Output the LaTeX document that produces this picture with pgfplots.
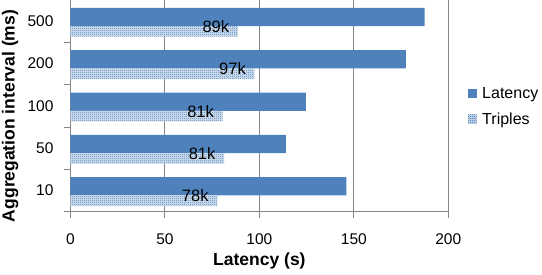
\documentclass[border=0pt]{standalone}
\usepackage{pgfplots}
\pgfplotsset{compat=1.18}
\usepackage{fontspec}
\setmainfont{Liberation Sans}
\usetikzlibrary{patterns.meta}
\definecolor{xblue}{HTML}{4F81BD}
\definecolor{xgray}{HTML}{868686}
\tikzdeclarepattern{
  name=finecheck,
  type=uncolored,
  bounding box={(0pt,0pt) and (2pt,2pt)},
  tile size={(2pt,2pt)},
  code={
    \pgfpathrectangle{\pgfpoint{0pt}{0pt}}{\pgfpoint{1pt}{1pt}}
    \pgfpathrectangle{\pgfpoint{1pt}{1pt}}{\pgfpoint{1pt}{1pt}}
    \pgfusepath{fill}
  }
}
\newcommand\tickfont{\fontsize{15.5}{18}\selectfont}
\newcommand\titlefont{\fontsize{17.5}{21}\selectfont\bfseries}
\newcommand\legfont{\fontsize{16}{19}\selectfont}
\begin{document}
\begin{tikzpicture}
\begin{axis}[
  at={(0,0)}, anchor=south west,
  scale only axis, width=377.8pt, height=211.7pt,
  xmin=0, xmax=200, ymin=-0.5, ymax=4.5,
  axis lines*=left,
  axis line style={xgray, line width=0.9pt},
  every tick/.style={xgray, line width=0.9pt},
  tick align=outside,
  major tick length=6pt,
  xtick={0,50,100,150,200},
  xmajorgrids,
  grid style={xgray, line width=0.9pt},
  ytick={-0.5,0.5,1.5,2.5,3.5},
  yticklabels={},
  extra y ticks={0,1,2,3,4},
  extra y tick labels={10,50,100,200,500},
  extra y tick style={major tick length=0pt, yticklabel style={xshift=-13.5pt}},
  /pgf/number format/assume math mode=true,
  ticklabel style={font=\tickfont, black},
  xticklabel style={yshift=-12pt},
  xlabel={Latency (s)},
  ylabel={Aggregation interval (ms)},
  every axis x label/.style={at={(axis description cs:0.5,0)}, anchor=center, yshift=-49pt, font=\titlefont},
  every axis y label/.style={at={(axis description cs:-0.160,0.452)}, anchor=center, rotate=90, font=\titlefont},
  legend style={at={(axis description cs:1.052,0.497)}, anchor=west, draw=none, fill=none, inner sep=0pt, font=\legfont, row sep=9pt, nodes={inner xsep=5.5pt, inner ysep=2pt}},
  legend cell align=left,
  clip=false,
]
\addplot[xbar, bar width=18.2pt, bar shift=4.2pt, fill=xblue, draw=none,
  legend image code/.code={\fill[xblue] (0pt,-4.3pt) rectangle (8.6pt,4.3pt);}]
  coordinates {(146,0) (114,1) (124.6,2) (177.5,3) (187.5,4)};
\addlegendentry{Latency}
\addplot[xbar, bar width=10.6pt, bar shift=-10.2pt, draw=none, fill=xblue!22,
  postaction={pattern=finecheck, pattern color=xblue},
  legend image code/.code={\path[fill=xblue!22, postaction={pattern=finecheck, pattern color=xblue}] (0pt,-4.3pt) rectangle (8.6pt,4.3pt);}]
  coordinates {(77.7,0) (81.3,1) (80.5,2) (97.4,3) (88.6,4)};
\addlegendentry{Triples}
\addplot[draw=none, forget plot,
  point meta=explicit symbolic,
  nodes near coords,
  nodes near coords style={anchor=center, xshift=-22pt, font=\fontsize{16.5}{19}\selectfont, black}]
  coordinates {(77.7,-0.13) [78k] (81.3,0.87) [81k] (80.5,1.87) [81k] (97.4,2.87) [97k] (88.6,3.87) [89k]};
\end{axis}
\pgfresetboundingbox
\path (-70.5pt,-62.3pt) rectangle (471.5pt,211.7pt);
\end{tikzpicture}
\end{document}
